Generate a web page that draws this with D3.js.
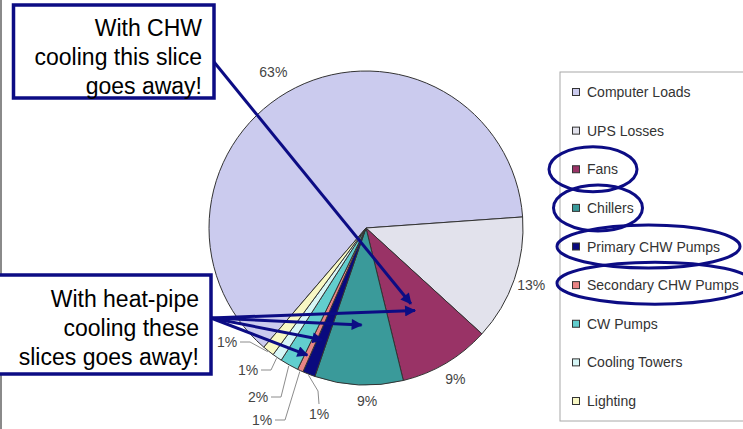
<!DOCTYPE html>
<html>
<head>
<meta charset="utf-8">
<script src="https://cdn.jsdelivr.net/npm/d3@7"></script>
<style>
  html, body { margin: 0; padding: 0; background: #fff; }
  svg { display: block; font-family: "Liberation Sans", Arial, sans-serif; }
</style>
</head>
<body>
<svg id="chart" width="743" height="429"></svg>
<script>
// Data-center energy breakdown
const categories = [
  "Computer Loads", "UPS Losses", "Fans", "Chillers", "Primary CHW Pumps",
  "Secondary CHW Pumps", "CW Pumps", "Cooling Towers", "Lighting"
];
const shares = [62.6, 12.9, 9.4, 9.1, 1.3, 0.6, 1.9, 1.0, 1.2];
const sliceColors = [
  "#cbcbee", "#e2e2ec", "#993366", "#3a9a9a", "#0a0a7e",
  "#e88484", "#62cece", "#d6f6f6", "#f8f8c4"
];
// Legend entries that get circled
const circledItems = ["Fans", "Chillers", "Primary CHW Pumps", "Secondary CHW Pumps"];

const svg = d3.select("#chart");
const W = 743, H = 429;
const cx = 366, cy = 228, R = 157;
const navy = "#0c0c84";

// chart-area frame on the left
svg.append("line").attr("x1", 1).attr("x2", 1).attr("y1", 0).attr("y2", H)
  .attr("stroke", "#8a8a8a").attr("stroke-width", 2);

const total = d3.sum(shares);
const pct = d3.format(".0%");
const rot = -139.4 * Math.PI / 180;
const pie = d3.pie().sort(null).value(d => d)
  .startAngle(rot).endAngle(rot + 2 * Math.PI);
const slices = pie(shares);
const arc = d3.arc().innerRadius(0).outerRadius(R);
const at = (s, r) => d3.arc().innerRadius(r).outerRadius(r).centroid(s);

const g = svg.append("g").attr("transform", `translate(${cx},${cy})`);
g.selectAll("path.slice").data(slices).join("path")
  .attr("class", "slice")
  .attr("d", arc)
  .attr("fill", (d, i) => sliceColors[i])
  .attr("stroke", "#333").attr("stroke-width", 1).attr("stroke-linejoin", "round");

// percentage labels
const labelFont = 14;
const big = [0, 1, 2, 3];
const nudge = { 0: [-14, 0], 3: [9, -2] };
big.forEach(i => {
  const [x, y] = at(slices[i], 175);
  const [nx, ny] = nudge[i] || [0, 0];
  g.append("text").attr("x", x + nx).attr("y", y + ny + 5)
    .attr("text-anchor", "middle").attr("font-size", labelFont).attr("fill", "#444")
    .text(pct(shares[i] / total));
});

// small slices: labels pulled out with leader lines (absolute text centres)
const smallLabels = [
  { i: 8, tx: 227, ty: 342, elbow: "h" },
  { i: 7, tx: 248, ty: 370, elbow: "h" },
  { i: 6, tx: 258, ty: 397, elbow: "h" },
  { i: 5, tx: 262, ty: 420, elbow: "h" },
  { i: 4, tx: 319, ty: 414, elbow: "v" }
];
smallLabels.forEach(l => {
  const [ex, ey] = at(slices[l.i], R + 1);
  const px = cx + ex, py = cy + ey;
  let pts;
  if (l.elbow === "h") {
    pts = [[l.tx + 13, l.ty], [l.tx + 23, l.ty], [px, py]];
  } else {
    pts = [[l.tx, l.ty - 10], [l.tx - 1, l.ty - 23], [px, py]];
  }
  svg.append("path").attr("d", d3.line()(pts))
    .attr("fill", "none").attr("stroke", "#8c8c8c").attr("stroke-width", 1);
  svg.append("text").attr("x", l.tx).attr("y", l.ty + 5)
    .attr("text-anchor", "middle").attr("font-size", labelFont).attr("fill", "#444")
    .text(pct(shares[l.i] / total));
});

// legend
const legend = svg.append("g");
legend.append("rect").attr("x", 560).attr("y", 72).attr("width", 200).attr("height", 349)
  .attr("fill", "#fff").attr("stroke", "#a8a8a8").attr("stroke-width", 1);
const rowY = d3.scalePoint().domain(categories).range([92, 401]);
categories.forEach((c, i) => {
  const y = rowY(c);
  legend.append("rect").attr("x", 572.5).attr("y", y - 3.5).attr("width", 7).attr("height", 7)
    .attr("fill", sliceColors[i]).attr("stroke", "#333").attr("stroke-width", 1);
  legend.append("text").attr("x", 587).attr("y", y + 5)
    .attr("font-size", 14).attr("fill", "#333").text(c);
});

// ellipses around the cooling-related legend entries
const ellipseSize = {
  "Fans": [593, 44, 22.5, 0],
  "Chillers": [598, 44.5, 23, 0],
  "Primary CHW Pumps": [648.5, 91.5, 21.5, 0],
  "Secondary CHW Pumps": [655, 98, 21, -2]
};
circledItems.forEach(c => {
  const [ex, rx, ry, dy] = ellipseSize[c];
  svg.append("ellipse").attr("cx", ex).attr("cy", rowY(c) + dy)
    .attr("rx", rx).attr("ry", ry)
    .attr("fill", "none").attr("stroke", navy).attr("stroke-width", 3);
});

// arrow marker
svg.append("defs").append("marker")
  .attr("id", "head").attr("viewBox", "0 0 10 10")
  .attr("refX", 9).attr("refY", 5)
  .attr("markerWidth", 15).attr("markerHeight", 11)
  .attr("markerUnits", "userSpaceOnUse").attr("orient", "auto")
  .append("path").attr("d", "M0,0L10,5L0,10z").attr("fill", navy);

function arrow(x0, y0, sliceIdx, r) {
  const [x, y] = at(slices[sliceIdx], r);
  svg.append("line").attr("x1", x0).attr("y1", y0).attr("x2", cx + x).attr("y2", cy + y)
    .attr("stroke", navy).attr("stroke-width", 3).attr("marker-end", "url(#head)");
}

// callout boxes
function callout(x, y, w, h, lines, baseY) {
  svg.append("rect").attr("x", x).attr("y", y).attr("width", w).attr("height", h)
    .attr("fill", "#fff").attr("stroke", navy).attr("stroke-width", 3.5);
  lines.forEach((t, k) => {
    svg.append("text").attr("x", x + w - 12).attr("y", baseY + k * 29)
      .attr("text-anchor", "end").attr("font-size", 23).attr("fill", "#000").text(t);
  });
}

arrow(214, 62, 2, 88);
callout(13.5, 5, 200.5, 93, ["With CHW", "cooling this slice", "goes away!"], 36);

[[2, 96], [3, 97], [4, 120], [5, 140]].forEach(([i, r]) => arrow(211, 318, i, r));
callout(-4, 275, 215, 99, ["With heat-pipe", "cooling these", "slices goes away!"], 307);
</script>
</body>
</html>
